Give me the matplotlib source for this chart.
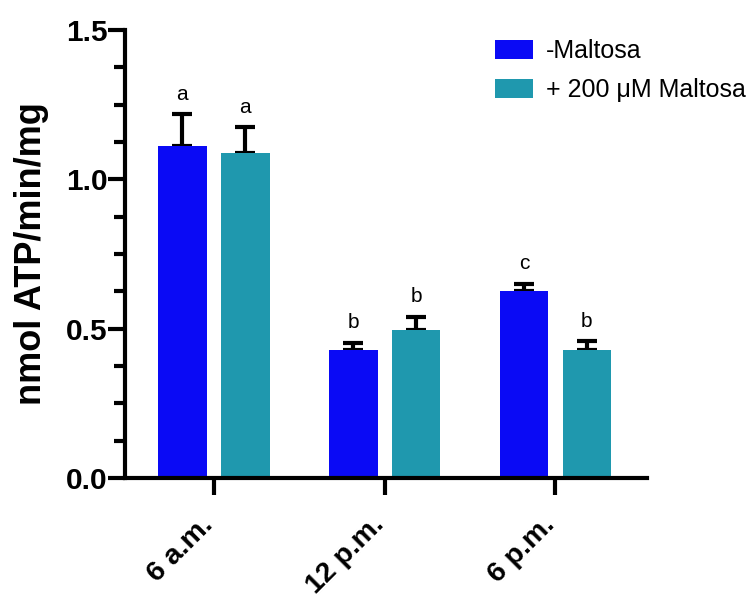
import matplotlib.pyplot as plt
import matplotlib.transforms as mtransforms
import numpy as np
from matplotlib.ticker import MultipleLocator

plt.rcParams["font.family"] = ["Liberation Sans", "DejaVu Sans"]

times = ["6 a.m.", "12 p.m.", "6 p.m."]
no_maltose = [1.113, 0.430, 0.627]
no_maltose_err = [0.105, 0.023, 0.023]
with_maltose = [1.087, 0.497, 0.430]
with_maltose_err = [0.087, 0.043, 0.027]
letters_no = ["a", "b", "c"]
letters_with = ["a", "b", "b"]

blue = "#0a0af5"
teal = "#1f98ae"

fig = plt.figure(figsize=(7.53, 5.99), dpi=100)
ax = fig.add_axes([0.166, 0.202, 0.693, 0.748])

x = np.arange(len(times))
w = 0.285
off = 0.184

ax.bar(x - off, no_maltose, w, color=blue, label="-Maltosa", zorder=2)
ax.bar(x + off, with_maltose, w, color=teal, label="+ 200 \u03bcM Maltosa", zorder=2)

for xs, vals, errs in [(x - off, no_maltose, no_maltose_err), (x + off, with_maltose, with_maltose_err)]:
    ax.errorbar(xs, vals, yerr=[np.zeros(len(errs)), errs], fmt="none",
                ecolor="black", elinewidth=3, capsize=7, capthick=3, zorder=1)

for xs, vals, errs, labs in [(x - off, no_maltose, no_maltose_err, letters_no),
                             (x + off, with_maltose, with_maltose_err, letters_with)]:
    for xi, v, e, t in zip(xs, vals, errs, labs):
        ax.text(xi, v + e + 0.035, t, ha="center", va="bottom", fontsize=15)

ax.set_xlim(-0.52, 2.535)
ax.set_ylim(0, 1.5)
ax.yaxis.set_major_locator(MultipleLocator(0.5))
ax.yaxis.set_minor_locator(MultipleLocator(0.125))
ax.yaxis.set_major_formatter(plt.FormatStrFormatter("%.1f"))

for side in ["top", "right"]:
    ax.spines[side].set_visible(False)
for side in ["left", "bottom"]:
    ax.spines[side].set_linewidth(3)

ax.tick_params(axis="y", which="major", length=12, width=3, labelsize=21.5, pad=0.5)
ax.tick_params(axis="y", which="minor", length=8, width=3)
ax.tick_params(axis="x", length=12, width=3, labelsize=20.5, pad=8)
ax.set_xticks(x)
ax.set_xticklabels(times, rotation=45, ha="right", rotation_mode="anchor")
shift = mtransforms.ScaledTranslation(-0.14, -0.06, fig.dpi_scale_trans)
for lab in ax.get_xticklabels():
    lab.set_transform(lab.get_transform() + shift)
for lab in ax.get_xticklabels() + ax.get_yticklabels():
    lab.set_fontweight("bold")

ax.set_ylabel("nmol ATP/min/mg", fontsize=26, fontweight="bold", labelpad=12)

ax.legend(loc="upper left", bbox_to_anchor=(495 / 753, 1 - 39 / 599),
          bbox_transform=fig.transFigure, frameon=False, fontsize=18,
          borderpad=0, borderaxespad=0, handlelength=1.5, handleheight=0.8,
          handletextpad=0.55, labelspacing=0.62)

fig.savefig("out.png", dpi=100)
